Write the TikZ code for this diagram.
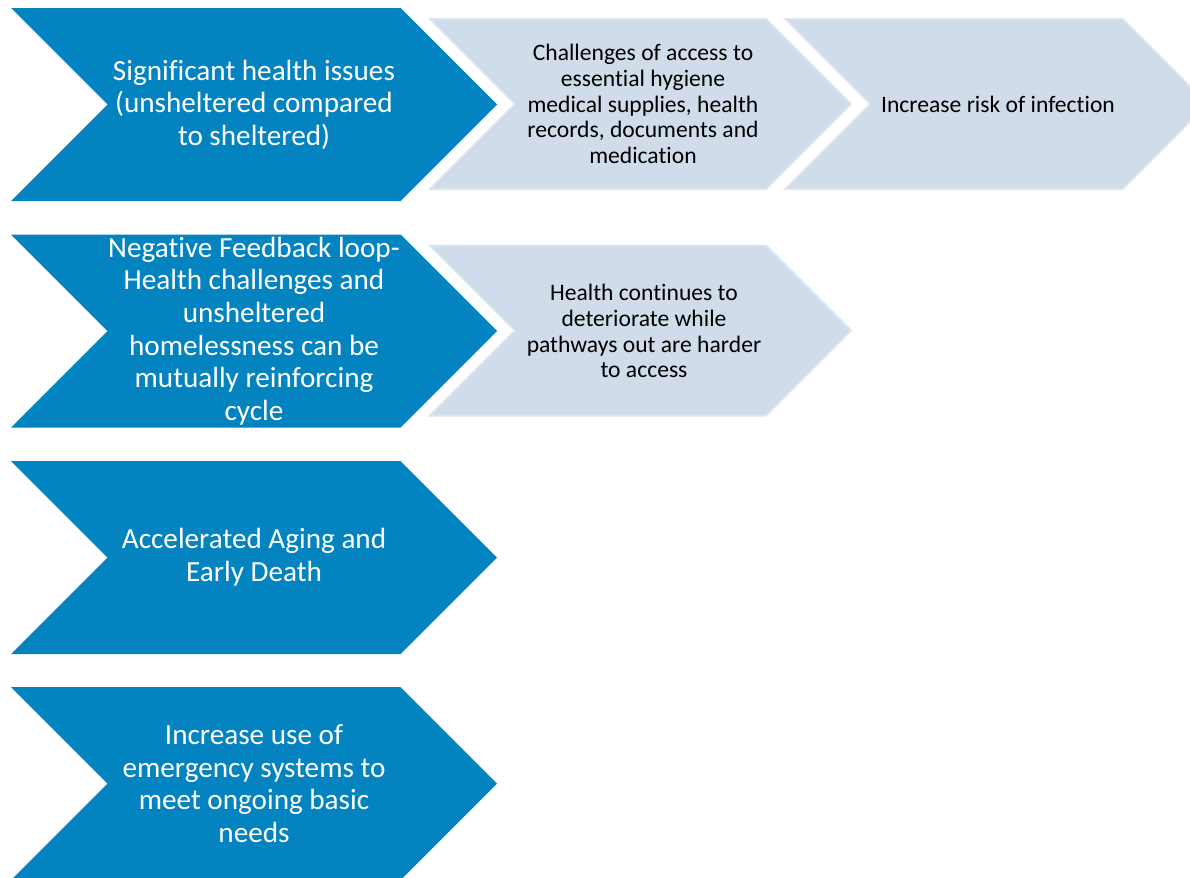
\documentclass[tikz,border=0pt]{standalone}
\usepackage{fontspec}
\setmainfont{Carlito}[Ligatures=NoCommon]
\usepackage{tikz}
\usetikzlibrary{positioning}

\definecolor{chevblue}{RGB}{3,131,192}
\definecolor{chevgrey}{RGB}{208,220,233}
\definecolor{chevedge}{RGB}{219,228,239}

% chevron: style, left x, top y, total width, half height
\newcommand{\chevron}[5]{%
  \path[#1] (#2,#3) -- ++(#4-#5,0) -- ++(#5,#5) -- ++(-#5,#5)
    -- ++(#5-#4,0) -- ++(#5,-#5) -- cycle;}

\begin{document}
\begin{tikzpicture}[x=0.5pt,y=-0.5pt]
  \tikzstyle{main chev}=[fill=chevblue]
  \tikzstyle{side chev}=[fill=chevgrey,draw=chevedge,line width=1pt]
  \tikzstyle{main text}=[align=center,text=white,inner sep=0pt,
                         font=\fontsize{14.6}{16.3}\selectfont]
  \tikzstyle{side text}=[align=center,text=black,inner sep=0pt,
                         font=\fontsize{11.8}{12.9}\selectfont]
  \clip (0,0) rectangle (1190,878);
  % left column
  \chevron{main chev}{11}{8}{486}{96.5}
  \chevron{main chev}{11}{234.5}{486}{96.5}
  \chevron{main chev}{11}{461}{486}{96.5}
  \chevron{main chev}{11}{687}{486}{96.5}
  % follow-ups
  \chevron{side chev}{430}{19}{421}{85}
  \chevron{side chev}{785.5}{19}{422}{85}
  \chevron{side chev}{430}{245.5}{421}{85}

  \node [main text] (issues) at (254,104.5)
    {Significant health issues\\(unsheltered compared\\to sheltered)};
  \node [main text] (loop) at (254,331)
    {Negative Feedback loop-\\Health challenges and\\unsheltered\\homelessness can be\\mutually reinforcing\\cycle};
  \node [main text] (aging) at (254,557.5)
    {Accelerated Aging and\\Early Death};
  \node [main text] (emergency) at (254,783.5)
    {Increase use of\\emergency systems to\\meet ongoing basic\\needs};

  \node [side text] (access) at (643,104)
    {Challenges of access to\\essential hygiene\\medical supplies, health\\records, documents and\\medication};
  \node [side text] (infection) at (998,104)
    {Increase risk of infection};
  \node [side text] (worsen) at (644,331)
    {Health continues to\\deteriorate while\\pathways out are harder\\to access};
\end{tikzpicture}
\end{document}
